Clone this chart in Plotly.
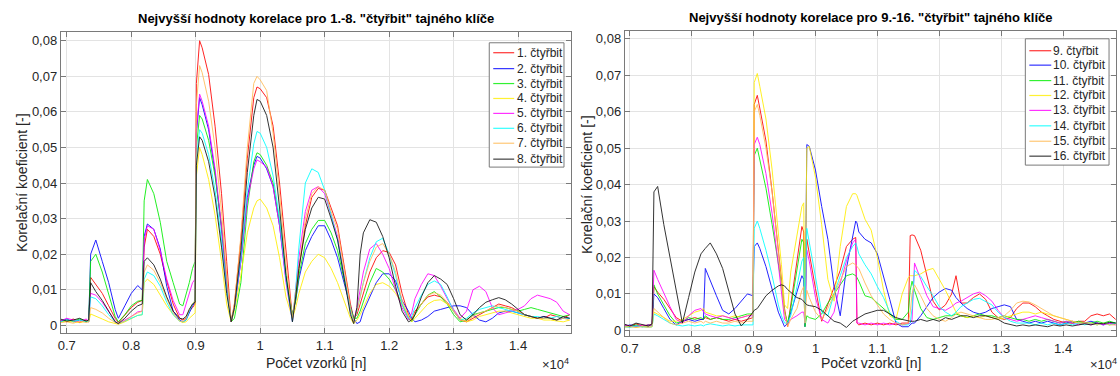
import plotly.graph_objects as go

# ---------------- data ----------------
# x positions (number of samples) for the left panel (series 1-8)
x_left = [6900, 7000, 7100, 7200, 7300, 7340, 7370, 7450, 7550, 7650,
          7750, 7800, 7900, 8000, 8100, 8170, 8200, 8250, 8350, 8450,
          8550, 8650, 8750, 8800, 8850, 8900, 8950, 8990, 9010, 9060,
          9100, 9200, 9300, 9400, 9480, 9550, 9600, 9700, 9800, 9900,
          9950, 10000, 10100, 10200, 10300, 10400, 10500, 10550, 10600, 10700,
          10800, 10900, 11000, 11100, 11200, 11300, 11400, 11450, 11500, 11550,
          11600, 11700, 11800, 11900, 12000, 12100, 12200, 12300, 12350, 12400,
          12500, 12600, 12700, 12800, 12900, 13000, 13100, 13200, 13300, 13400,
          13500, 13600, 13700, 13800, 13900, 14000, 14100, 14200, 14300, 14400,
          14500, 14600, 14700, 14800]

s1 = [0.0015, 0.0010, 0.0018, 0.0008, 0.0015, 0.0012, 0.0135, 0.0115, 0.0090, 0.0055,
      0.0020, 0.0008, 0.0030, 0.0050, 0.0065, 0.0070, 0.0220, 0.0270, 0.0250, 0.0200,
      0.0125, 0.0060, 0.0020, 0.0015, 0.0020, 0.0040, 0.0050, 0.0060, 0.0680, 0.0800,
      0.0780, 0.0705, 0.0560, 0.0370, 0.0180, 0.0010, 0.0060, 0.0240, 0.0470, 0.0640,
      0.0670, 0.0665, 0.0640, 0.0560, 0.0400, 0.0210, 0.0020, 0.0080, 0.0160, 0.0280,
      0.0360, 0.0385, 0.0380, 0.0330, 0.0280, 0.0170, 0.0060, 0.0020, 0.0030, 0.0060,
      0.0090, 0.0150, 0.0190, 0.0210, 0.0205, 0.0170, 0.0090, 0.0030, 0.0015, 0.0040,
      0.0060, 0.0080, 0.0085, 0.0080, 0.0065, 0.0040, 0.0015, 0.0010, 0.0020, 0.0030,
      0.0040, 0.0050, 0.0060, 0.0055, 0.0050, 0.0040, 0.0030, 0.0025, 0.0020, 0.0020,
      0.0030, 0.0025, 0.0020, 0.0030]
s2 = [0.0012, 0.0018, 0.0010, 0.0015, 0.0012, 0.0010, 0.0200, 0.0240, 0.0180, 0.0120,
      0.0045, 0.0020, 0.0055, 0.0090, 0.0112, 0.0100, 0.0250, 0.0285, 0.0270, 0.0215,
      0.0110, 0.0040, 0.0015, 0.0010, 0.0015, 0.0035, 0.0055, 0.0065, 0.0540, 0.0640,
      0.0620, 0.0550, 0.0430, 0.0270, 0.0110, 0.0010, 0.0050, 0.0180, 0.0360, 0.0450,
      0.0475, 0.0470, 0.0440, 0.0390, 0.0280, 0.0130, 0.0030, 0.0070, 0.0130, 0.0210,
      0.0250, 0.0280, 0.0280, 0.0240, 0.0190, 0.0120, 0.0050, 0.0020, 0.0005, 0.0010,
      0.0040, 0.0080, 0.0120, 0.0145, 0.0145, 0.0125, 0.0070, 0.0040, 0.0020, 0.0010,
      0.0015, 0.0025, 0.0040, 0.0045, 0.0050, 0.0055, 0.0055, 0.0050, 0.0030, 0.0015,
      0.0010, 0.0020, 0.0035, 0.0040, 0.0040, 0.0035, 0.0030, 0.0025, 0.0020, 0.0025,
      0.0020, 0.0015, 0.0020, 0.0020]
s3 = [0.0010, 0.0015, 0.0012, 0.0018, 0.0010, 0.0012, 0.0180, 0.0200, 0.0150, 0.0085,
      0.0025, 0.0010, 0.0030, 0.0055, 0.0068, 0.0070, 0.0350, 0.0410, 0.0370, 0.0290,
      0.0180, 0.0120, 0.0060, 0.0055, 0.0085, 0.0120, 0.0160, 0.0180, 0.0500, 0.0590,
      0.0580, 0.0520, 0.0420, 0.0280, 0.0130, 0.0010, 0.0020, 0.0120, 0.0330, 0.0460,
      0.0485, 0.0480, 0.0450, 0.0400, 0.0290, 0.0140, 0.0030, 0.0070, 0.0140, 0.0230,
      0.0270, 0.0295, 0.0295, 0.0260, 0.0210, 0.0130, 0.0050, 0.0020, 0.0020, 0.0040,
      0.0065, 0.0120, 0.0160, 0.0150, 0.0130, 0.0100, 0.0060, 0.0020, 0.0010, 0.0030,
      0.0060, 0.0085, 0.0095, 0.0080, 0.0060, 0.0030, 0.0010, 0.0015, 0.0030, 0.0035,
      0.0040, 0.0045, 0.0050, 0.0050, 0.0045, 0.0040, 0.0045, 0.0050, 0.0045, 0.0040,
      0.0035, 0.0030, 0.0025, 0.0030]
s4 = [0.0008, 0.0012, 0.0010, 0.0008, 0.0012, 0.0010, 0.0032, 0.0025, 0.0018, 0.0010,
      0.0005, 0.0003, 0.0010, 0.0020, 0.0028, 0.0030, 0.0120, 0.0130, 0.0115, 0.0085,
      0.0055, 0.0030, 0.0012, 0.0008, 0.0010, 0.0020, 0.0030, 0.0035, 0.0420, 0.0500,
      0.0480, 0.0410, 0.0310, 0.0180, 0.0060, 0.0010, 0.0040, 0.0140, 0.0260, 0.0330,
      0.0350, 0.0355, 0.0330, 0.0280, 0.0190, 0.0080, 0.0020, 0.0050, 0.0090, 0.0150,
      0.0180, 0.0200, 0.0190, 0.0160, 0.0120, 0.0070, 0.0020, 0.0005, 0.0015, 0.0030,
      0.0050, 0.0090, 0.0115, 0.0120, 0.0110, 0.0090, 0.0060, 0.0025, 0.0010, 0.0020,
      0.0040, 0.0060, 0.0070, 0.0072, 0.0060, 0.0040, 0.0020, 0.0010, 0.0015, 0.0025,
      0.0030, 0.0035, 0.0040, 0.0040, 0.0035, 0.0030, 0.0025, 0.0020, 0.0020, 0.0015,
      0.0015, 0.0012, 0.0010, 0.0015]
s5 = [0.0012, 0.0020, 0.0015, 0.0010, 0.0018, 0.0012, 0.0090, 0.0085, 0.0065, 0.0040,
      0.0012, 0.0005, 0.0015, 0.0025, 0.0038, 0.0040, 0.0240, 0.0280, 0.0270, 0.0210,
      0.0130, 0.0070, 0.0030, 0.0030, 0.0060, 0.0090, 0.0120, 0.0130, 0.0550, 0.0650,
      0.0630, 0.0560, 0.0440, 0.0280, 0.0120, 0.0010, 0.0050, 0.0180, 0.0350, 0.0440,
      0.0465, 0.0460, 0.0445, 0.0390, 0.0280, 0.0120, 0.0010, 0.0100, 0.0190, 0.0320,
      0.0380, 0.0390, 0.0370, 0.0310, 0.0250, 0.0140, 0.0040, 0.0010, 0.0050, 0.0100,
      0.0150, 0.0215, 0.0230, 0.0200, 0.0160, 0.0100, 0.0050, 0.0015, 0.0035, 0.0075,
      0.0115, 0.0145, 0.0140, 0.0110, 0.0075, 0.0045, 0.0020, 0.0040, 0.0100, 0.0110,
      0.0095, 0.0050, 0.0030, 0.0035, 0.0040, 0.0045, 0.0055, 0.0075, 0.0085, 0.0080,
      0.0075, 0.0065, 0.0040, 0.0030]
s6 = [0.0010, 0.0015, 0.0012, 0.0015, 0.0010, 0.0012, 0.0080, 0.0075, 0.0055, 0.0030,
      0.0010, 0.0005, 0.0012, 0.0020, 0.0028, 0.0030, 0.0130, 0.0150, 0.0140, 0.0110,
      0.0065, 0.0030, 0.0012, 0.0010, 0.0015, 0.0040, 0.0060, 0.0070, 0.0470, 0.0550,
      0.0540, 0.0480, 0.0380, 0.0240, 0.0100, 0.0010, 0.0050, 0.0190, 0.0380, 0.0510,
      0.0545, 0.0540, 0.0500, 0.0420, 0.0300, 0.0130, 0.0010, 0.0100, 0.0220, 0.0400,
      0.0440, 0.0430, 0.0380, 0.0310, 0.0240, 0.0140, 0.0040, 0.0010, 0.0040, 0.0080,
      0.0120, 0.0190, 0.0235, 0.0245, 0.0200, 0.0140, 0.0060, 0.0020, 0.0025, 0.0050,
      0.0085, 0.0115, 0.0125, 0.0115, 0.0080, 0.0040, 0.0015, 0.0020, 0.0035, 0.0045,
      0.0050, 0.0055, 0.0050, 0.0045, 0.0040, 0.0035, 0.0030, 0.0025, 0.0025, 0.0020,
      0.0020, 0.0025, 0.0020, 0.0020]
s7 = [0.0008, 0.0010, 0.0006, 0.0012, 0.0008, 0.0010, 0.0050, 0.0045, 0.0035, 0.0020,
      0.0008, 0.0005, 0.0012, 0.0025, 0.0035, 0.0040, 0.0150, 0.0170, 0.0155, 0.0120,
      0.0075, 0.0035, 0.0012, 0.0010, 0.0020, 0.0045, 0.0060, 0.0070, 0.0620, 0.0730,
      0.0710, 0.0630, 0.0500, 0.0320, 0.0140, 0.0010, 0.0060, 0.0250, 0.0500, 0.0680,
      0.0700, 0.0690, 0.0660, 0.0540, 0.0370, 0.0170, 0.0020, 0.0090, 0.0170, 0.0300,
      0.0370, 0.0390, 0.0380, 0.0320, 0.0270, 0.0160, 0.0050, 0.0010, 0.0040, 0.0080,
      0.0120, 0.0180, 0.0220, 0.0230, 0.0200, 0.0150, 0.0070, 0.0025, 0.0015, 0.0035,
      0.0060, 0.0085, 0.0092, 0.0085, 0.0065, 0.0040, 0.0015, 0.0012, 0.0025, 0.0035,
      0.0040, 0.0050, 0.0055, 0.0050, 0.0045, 0.0040, 0.0030, 0.0025, 0.0020, 0.0020,
      0.0020, 0.0015, 0.0020, 0.0015]
s8 = [0.0018, 0.0012, 0.0015, 0.0020, 0.0012, 0.0015, 0.0120, 0.0095, 0.0070, 0.0040,
      0.0010, 0.0005, 0.0020, 0.0040, 0.0055, 0.0060, 0.0180, 0.0190, 0.0170, 0.0130,
      0.0080, 0.0040, 0.0020, 0.0018, 0.0025, 0.0045, 0.0060, 0.0065, 0.0450, 0.0530,
      0.0520, 0.0460, 0.0360, 0.0220, 0.0090, 0.0010, 0.0050, 0.0210, 0.0430, 0.0590,
      0.0635, 0.0630, 0.0590, 0.0500, 0.0330, 0.0140, 0.0010, 0.0080, 0.0160, 0.0270,
      0.0330, 0.0360, 0.0355, 0.0300, 0.0240, 0.0135, 0.0030, 0.0005, 0.0050, 0.0200,
      0.0260, 0.0297, 0.0290, 0.0250, 0.0190, 0.0110, 0.0040, 0.0010, 0.0015, 0.0030,
      0.0080, 0.0120, 0.0140, 0.0130, 0.0115, 0.0075, 0.0030, 0.0015, 0.0030, 0.0050,
      0.0065, 0.0072, 0.0078, 0.0072, 0.0060, 0.0045, 0.0030, 0.0025, 0.0020, 0.0025,
      0.0020, 0.0015, 0.0025, 0.0020]

# x positions (number of samples) for the right panel (series 9-16)
x_right = [6900, 7000, 7100, 7200, 7300, 7360, 7390, 7450, 7550, 7650,
           7750, 7850, 7950, 8050, 8150, 8190, 8220, 8300, 8400, 8500,
           8600, 8700, 8800, 8900, 8990, 9010, 9060, 9100, 9200, 9300,
           9400, 9450, 9500, 9550, 9600, 9700, 9780, 9810, 9830, 9860,
           9900, 10000, 10100, 10200, 10300, 10400, 10500, 10600, 10650, 10670,
           10700, 10800, 10900, 11000, 11100, 11200, 11300, 11400, 11500, 11530,
           11560, 11600, 11700, 11800, 11900, 12000, 12100, 12200, 12270, 12350,
           12450, 12550, 12650, 12750, 12850, 12950, 13050, 13150, 13250, 13350,
           13450, 13550, 13650, 13750, 13850, 13950, 14050, 14150, 14250, 14350,
           14450, 14550, 14650, 14750, 14850]

s9 = [0.0015, 0.0010, 0.0018, 0.0012, 0.0015, 0.0015, 0.0120, 0.0105, 0.0085, 0.0060,
      0.0035, 0.0025, 0.0030, 0.0035, 0.0030, 0.0030, 0.0035, 0.0030, 0.0035, 0.0030,
      0.0025, 0.0030, 0.0025, 0.0030, 0.0035, 0.0620, 0.0645, 0.0610, 0.0520, 0.0380,
      0.0220, 0.0140, 0.0060, 0.0010, 0.0070, 0.0180, 0.0285, 0.0270, 0.0020, 0.0250,
      0.0210, 0.0115, 0.0025, 0.0070, 0.0120, 0.0165, 0.0230, 0.0250, 0.0255, 0.0020,
      0.0015, 0.0020, 0.0015, 0.0020, 0.0015, 0.0020, 0.0015, 0.0020, 0.0020, 0.0260,
      0.0262, 0.0260, 0.0220, 0.0150, 0.0080, 0.0056, 0.0070, 0.0100, 0.0150, 0.0075,
      0.0075, 0.0090, 0.0100, 0.0085, 0.0050, 0.0035, 0.0030, 0.0035, 0.0060, 0.0075,
      0.0075, 0.0065, 0.0050, 0.0040, 0.0030, 0.0025, 0.0020, 0.0020, 0.0025, 0.0025,
      0.0040, 0.0045, 0.0040, 0.0045, 0.0030]
s10 = [0.0010, 0.0015, 0.0012, 0.0010, 0.0015, 0.0012, 0.0100, 0.0090, 0.0060, 0.0030,
       0.0015, 0.0025, 0.0030, 0.0025, 0.0030, 0.0030, 0.0170, 0.0135, 0.0095, 0.0055,
       0.0045, 0.0060, 0.0080, 0.0100, 0.0095, 0.0230, 0.0240, 0.0225, 0.0175, 0.0115,
       0.0050, 0.0030, 0.0010, 0.0020, 0.0050, 0.0105, 0.0150, 0.0140, 0.0010, 0.0510,
       0.0505, 0.0440, 0.0340, 0.0250, 0.0120, 0.0040, 0.0170, 0.0260, 0.0300, 0.0295,
       0.0270, 0.0250, 0.0240, 0.0210, 0.0150, 0.0085, 0.0020, 0.0010, 0.0010, 0.0015,
       0.0020, 0.0020, 0.0040, 0.0065, 0.0090, 0.0105, 0.0115, 0.0110, 0.0090, 0.0075,
       0.0060, 0.0050, 0.0045, 0.0050, 0.0060, 0.0065, 0.0070, 0.0065, 0.0030, 0.0025,
       0.0020, 0.0025, 0.0020, 0.0025, 0.0020, 0.0015, 0.0020, 0.0025, 0.0020, 0.0020,
       0.0025, 0.0020, 0.0015, 0.0020, 0.0020]
s11 = [0.0012, 0.0010, 0.0015, 0.0010, 0.0012, 0.0015, 0.0125, 0.0100, 0.0070, 0.0040,
       0.0020, 0.0025, 0.0035, 0.0030, 0.0035, 0.0030, 0.0040, 0.0030, 0.0035, 0.0030,
       0.0030, 0.0035, 0.0040, 0.0045, 0.0045, 0.0480, 0.0500, 0.0470, 0.0390, 0.0290,
       0.0190, 0.0130, 0.0050, 0.0020, 0.0060, 0.0170, 0.0250, 0.0240, 0.0010, 0.0040,
       0.0035, 0.0030, 0.0045, 0.0075, 0.0100, 0.0125, 0.0150, 0.0155, 0.0150, 0.0145,
       0.0135, 0.0095, 0.0090, 0.0075, 0.0060, 0.0045, 0.0030, 0.0030, 0.0050, 0.0110,
       0.0135, 0.0110, 0.0060, 0.0035, 0.0030, 0.0035, 0.0040, 0.0040, 0.0045, 0.0040,
       0.0035, 0.0040, 0.0045, 0.0040, 0.0040, 0.0035, 0.0040, 0.0035, 0.0030, 0.0030,
       0.0025, 0.0030, 0.0025, 0.0030, 0.0025, 0.0020, 0.0025, 0.0020, 0.0025, 0.0020,
       0.0020, 0.0025, 0.0020, 0.0025, 0.0020]
s12 = [0.0010, 0.0012, 0.0008, 0.0012, 0.0010, 0.0010, 0.0050, 0.0045, 0.0035, 0.0025,
       0.0025, 0.0030, 0.0040, 0.0050, 0.0055, 0.0060, 0.0050, 0.0045, 0.0040, 0.0040,
       0.0035, 0.0040, 0.0035, 0.0040, 0.0045, 0.0680, 0.0705, 0.0670, 0.0580, 0.0440,
       0.0270, 0.0180, 0.0070, 0.0060, 0.0160, 0.0255, 0.0340, 0.0350, 0.0020, 0.0500,
       0.0505, 0.0420, 0.0290, 0.0140, 0.0080, 0.0230, 0.0340, 0.0375, 0.0375, 0.0370,
       0.0355, 0.0305, 0.0275, 0.0200, 0.0110, 0.0040, 0.0030, 0.0100, 0.0145, 0.0150,
       0.0150, 0.0150, 0.0155, 0.0165, 0.0170, 0.0140, 0.0110, 0.0075, 0.0050, 0.0040,
       0.0035, 0.0040, 0.0035, 0.0040, 0.0035, 0.0030, 0.0035, 0.0040, 0.0045, 0.0050,
       0.0050, 0.0045, 0.0050, 0.0045, 0.0040, 0.0035, 0.0030, 0.0025, 0.0020, 0.0020,
       0.0020, 0.0015, 0.0020, 0.0015, 0.0020]
s13 = [0.0015, 0.0012, 0.0010, 0.0015, 0.0012, 0.0015, 0.0165, 0.0140, 0.0100, 0.0065,
       0.0030, 0.0020, 0.0040, 0.0055, 0.0060, 0.0050, 0.0045, 0.0040, 0.0035, 0.0040,
       0.0035, 0.0030, 0.0035, 0.0040, 0.0040, 0.0510, 0.0530, 0.0510, 0.0430, 0.0320,
       0.0180, 0.0100, 0.0030, 0.0020, 0.0030, 0.0040, 0.0050, 0.0050, 0.0020, 0.0220,
       0.0190, 0.0090, 0.0030, 0.0020, 0.0050, 0.0130, 0.0190, 0.0240, 0.0250, 0.0020,
       0.0020, 0.0015, 0.0020, 0.0015, 0.0020, 0.0015, 0.0020, 0.0015, 0.0020, 0.0020,
       0.0030, 0.0185, 0.0140, 0.0095, 0.0065, 0.0060, 0.0055, 0.0065, 0.0075, 0.0080,
       0.0090, 0.0100, 0.0105, 0.0095, 0.0080, 0.0055, 0.0035, 0.0030, 0.0025, 0.0030,
       0.0035, 0.0040, 0.0035, 0.0030, 0.0025, 0.0020, 0.0025, 0.0020, 0.0015, 0.0020,
       0.0015, 0.0020, 0.0015, 0.0020, 0.0015]
s14 = [0.0010, 0.0008, 0.0012, 0.0010, 0.0008, 0.0010, 0.0045, 0.0040, 0.0030, 0.0020,
       0.0015, 0.0012, 0.0015, 0.0012, 0.0015, 0.0012, 0.0015, 0.0018, 0.0015, 0.0012,
       0.0015, 0.0012, 0.0015, 0.0015, 0.0015, 0.0280, 0.0300, 0.0280, 0.0220, 0.0150,
       0.0070, 0.0040, 0.0020, 0.0020, 0.0040, 0.0120, 0.0190, 0.0200, 0.0020, 0.0280,
       0.0240, 0.0140, 0.0050, 0.0040, 0.0100, 0.0150, 0.0200, 0.0230, 0.0240, 0.0230,
       0.0210, 0.0180, 0.0155, 0.0120, 0.0090, 0.0050, 0.0025, 0.0015, 0.0015, 0.0020,
       0.0060, 0.0165, 0.0148, 0.0120, 0.0095, 0.0065, 0.0050, 0.0040, 0.0050, 0.0065,
       0.0075, 0.0085, 0.0088, 0.0080, 0.0070, 0.0050, 0.0035, 0.0025, 0.0020, 0.0020,
       0.0020, 0.0015, 0.0020, 0.0015, 0.0020, 0.0015, 0.0020, 0.0015, 0.0020, 0.0015,
       0.0020, 0.0015, 0.0020, 0.0015, 0.0020]
s15 = [0.0008, 0.0010, 0.0008, 0.0010, 0.0008, 0.0010, 0.0060, 0.0050, 0.0035, 0.0020,
       0.0015, 0.0020, 0.0025, 0.0020, 0.0025, 0.0020, 0.0025, 0.0020, 0.0025, 0.0020,
       0.0020, 0.0025, 0.0020, 0.0025, 0.0025, 0.0600, 0.0620, 0.0590, 0.0500, 0.0380,
       0.0210, 0.0130, 0.0050, 0.0010, 0.0030, 0.0060, 0.0110, 0.0120, 0.0020, 0.0110,
       0.0090, 0.0050, 0.0030, 0.0060, 0.0100, 0.0140, 0.0175, 0.0185, 0.0180, 0.0175,
       0.0170, 0.0130, 0.0095, 0.0070, 0.0045, 0.0030, 0.0020, 0.0015, 0.0020, 0.0050,
       0.0100, 0.0125, 0.0095, 0.0060, 0.0040, 0.0030, 0.0025, 0.0035, 0.0045, 0.0050,
       0.0045, 0.0040, 0.0035, 0.0030, 0.0030, 0.0035, 0.0040, 0.0055, 0.0075, 0.0080,
       0.0078, 0.0070, 0.0060, 0.0050, 0.0040, 0.0035, 0.0030, 0.0025, 0.0020, 0.0020,
       0.0020, 0.0015, 0.0020, 0.0015, 0.0015]
s16 = [0.0018, 0.0012, 0.0020, 0.0015, 0.0012, 0.0018, 0.0380, 0.0395, 0.0290, 0.0200,
       0.0110, 0.0020, 0.0090, 0.0160, 0.0210, 0.0220, 0.0225, 0.0240, 0.0210, 0.0170,
       0.0110, 0.0045, 0.0012, 0.0030, 0.0050, 0.0055, 0.0060, 0.0070, 0.0095, 0.0110,
       0.0122, 0.0125, 0.0122, 0.0112, 0.0105, 0.0090, 0.0085, 0.0080, 0.0075, 0.0070,
       0.0068, 0.0065, 0.0055, 0.0040, 0.0025, 0.0020, 0.0008, 0.0025, 0.0030, 0.0032,
       0.0035, 0.0045, 0.0050, 0.0055, 0.0055, 0.0045, 0.0035, 0.0030, 0.0025, 0.0025,
       0.0025, 0.0025, 0.0030, 0.0025, 0.0030, 0.0025, 0.0035, 0.0030, 0.0035, 0.0040,
       0.0040, 0.0035, 0.0040, 0.0040, 0.0035, 0.0030, 0.0020, 0.0015, 0.0012, 0.0015,
       0.0012, 0.0015, 0.0012, 0.0010, 0.0015, 0.0012, 0.0015, 0.0012, 0.0015, 0.0018,
       0.0015, 0.0020, 0.0018, 0.0022, 0.0020]

left_series = [s1, s2, s3, s4, s5, s6, s7, s8]
right_series = [s9, s10, s11, s12, s13, s14, s15, s16]
left_names = ["1. čtyřbit", "2. čtyřbit", "3. čtyřbit", "4. čtyřbit",
              "5. čtyřbit", "6. čtyřbit", "7. čtyřbit", "8. čtyřbit"]
right_names = ["9. čtyřbit", "10. čtyřbit", "11. čtyřbit", "12. čtyřbit",
               "13. čtyřbit", "14. čtyřbit", "15. čtyřbit", "16. čtyřbit"]
colors = ["#ff0000", "#0000ff", "#00ee00", "#ffee00",
          "#ff00ff", "#00ffff", "#ffbb55", "#111111"]

x_tickvals = [7000, 8000, 9000, 10000, 11000, 12000, 13000, 14000]
x_ticktext = ["0.7", "0.8", "0.9", "1", "1.1", "1.2", "1.3", "1.4"]
y_tickvals = [0, 0.01, 0.02, 0.03, 0.04, 0.05, 0.06, 0.07, 0.08]
y_ticktext = ["0", "0,01", "0,02", "0,03", "0,04", "0,05", "0,06", "0,07", "0,08"]

# ---------------- figure ----------------
W, H = 1120, 376
FONT = "Liberation Sans, Arial, Helvetica, sans-serif"
fig = go.Figure()

for ys, nm, c in zip(left_series, left_names, colors):
    fig.add_trace(go.Scatter(x=x_left, y=ys, name=nm, mode="lines",
                             line=dict(color=c, width=1), opacity=0.85,
                             xaxis="x", yaxis="y", showlegend=False))
for ys, nm, c in zip(right_series, right_names, colors):
    fig.add_trace(go.Scatter(x=x_right, y=ys, name=nm, mode="lines",
                             line=dict(color=c, width=1), opacity=0.85,
                             xaxis="x2", yaxis="y2", showlegend=False))

axis_common = dict(
    showgrid=True, gridcolor="#e3e3e3", gridwidth=1,
    showline=True, linecolor="#7a7a7a", linewidth=1, mirror="ticks",
    ticks="inside", ticklen=5, tickcolor="#7a7a7a",
    tickfont=dict(family=FONT, size=13, color="#262626"),
    zeroline=False,
)

fig.update_layout(
    width=W, height=H,
    margin=dict(l=0, r=0, t=0, b=0),
    paper_bgcolor="white", plot_bgcolor="white",
    font=dict(family=FONT, color="#262626"),
    showlegend=False,
    xaxis=dict(domain=[57 / W, 569 / W], range=[6907, 14820],
               tickvals=x_tickvals, ticktext=x_ticktext, anchor="y", **axis_common),
    yaxis=dict(domain=[1 - 335 / H, 1 - 32 / H], range=[-0.0022, 0.0825],
               tickvals=y_tickvals, ticktext=y_ticktext, anchor="x", **axis_common),
    xaxis2=dict(domain=[623 / W, 1116 / W], range=[6919, 14855],
                tickvals=x_tickvals, ticktext=x_ticktext, anchor="y2", **axis_common),
    yaxis2=dict(domain=[1 - 338 / H, 1 - 31 / H], range=[-0.0016, 0.0822],
                tickvals=y_tickvals, ticktext=y_ticktext, anchor="x2", **axis_common),
)

# ---- legends drawn as boxes, line samples and text (MATLAB-like compact spacing)
shapes = []
ann = []


def add_legend(box, rows_y, sample_x0, sample_x1, text_x, names):
    x0, y0, x1, y1 = box
    shapes.append(dict(type="rect", xref="paper", yref="paper",
                       x0=x0 / W, x1=x1 / W, y0=1 - y1 / H, y1=1 - y0 / H,
                       line=dict(color="#7a7a7a", width=1), fillcolor="white",
                       layer="above"))
    for ry, nm, c in zip(rows_y, names, colors):
        shapes.append(dict(type="line", xref="paper", yref="paper",
                           x0=sample_x0 / W, x1=sample_x1 / W,
                           y0=1 - ry / H, y1=1 - ry / H,
                           line=dict(color=c, width=1.2), opacity=0.8, layer="above"))
        ann.append(dict(text=nm, x=text_x / W, y=1 - ry / H, xref="paper", yref="paper",
                        showarrow=False, xanchor="left", yanchor="middle",
                        font=dict(family=FONT, size=12, color="#262626")))


add_legend((487, 43, 562, 168), [53, 69, 84, 99, 114, 129, 144, 160],
           491, 512, 513, left_names)
add_legend((1025, 39, 1109, 166), [51, 65.5, 81, 96, 111, 126.5, 142, 157],
           1029, 1051, 1051, right_names)

ann.append(dict(text="<b>Nejvyšší hodnoty korelace pro 1.-8. \"čtyřbit\" tajného klíče</b>",
                x=313 / W, y=1 - 19 / H, xref="paper", yref="paper",
                showarrow=False, font=dict(family=FONT, size=13, color="#000000"),
                xanchor="center", yanchor="middle"))
ann.append(dict(text="<b>Nejvyšší hodnoty korelace pro 9.-16. \"čtyřbit\" tajného klíče</b>",
                x=870 / W, y=1 - 18 / H, xref="paper", yref="paper",
                showarrow=False, font=dict(family=FONT, size=13, color="#000000"),
                xanchor="center", yanchor="middle"))
for xc in (313, 870):
    ann.append(dict(text="Počet vzorků [n]", x=xc / W, y=1 - 365 / H,
                    xref="paper", yref="paper", showarrow=False,
                    font=dict(family=FONT, size=14, color="#262626"),
                    xanchor="center", yanchor="middle"))
for xc, yc in ((18, 183), (585, 185)):
    ann.append(dict(text="Korelační koeficient [-]", x=xc / W, y=1 - yc / H,
                    xref="paper", yref="paper", showarrow=False, textangle=-90,
                    font=dict(family=FONT, size=14, color="#262626"),
                    xanchor="center", yanchor="middle"))
for xc in (553, 1103):
    ann.append(dict(text="×10<sup>4</sup>", x=xc / W, y=1 - 366 / H,
                    xref="paper", yref="paper", showarrow=False,
                    font=dict(family=FONT, size=13, color="#262626"),
                    xanchor="center", yanchor="middle"))

fig.update_layout(shapes=shapes, annotations=ann)

fig.write_html("out.html")
